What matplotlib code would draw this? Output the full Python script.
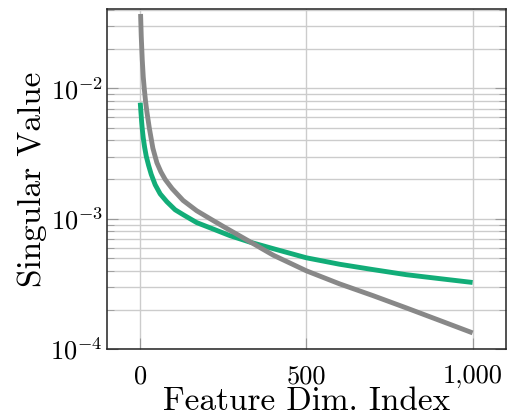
import math
import matplotlib
matplotlib.use("Agg")
import matplotlib.pyplot as plt
from matplotlib.ticker import FuncFormatter, LogLocator, FixedLocator

# values
gray_x = [1, 3, 6, 9, 12, 16, 20, 27, 38, 50, 62, 75, 96, 129, 170, 210, 250, 291, 339,
          400, 500, 600, 700, 800, 900, 1000]
gray_y = [0.0372, 0.0251, 0.0166, 0.0123, 0.0100, 0.00794, 0.00661, 0.00501, 0.00347, 0.00269,
          0.00229, 0.00200, 0.00170, 0.00138, 0.00115, 0.00100, 0.000871, 0.000759, 0.000646,
          0.000525, 0.000398, 0.000316, 0.000257, 0.000207, 0.000166, 0.000133]
green_x = [0, 2, 4, 6, 9, 13, 18, 25, 33, 45, 60, 80, 105, 130, 170, 220, 270, 330,
           400, 500, 600, 700, 800, 900, 1000]
green_y = [0.00776, 0.00661, 0.00562, 0.00490, 0.00417, 0.00355, 0.00302, 0.00257, 0.00219,
           0.00182, 0.00155, 0.00135, 0.00117, 0.00107, 0.000933, 0.000832, 0.000741, 0.000661,
           0.000589, 0.000501, 0.000447, 0.000407, 0.000372, 0.000347, 0.000324]
xticks = [0, 500, 1000]
xtick_labels = ["0", "500", "1,000"]

plt.rcParams["font.family"] = ["cmr10", "DejaVu Serif"]
plt.rcParams["mathtext.fontset"] = "cm"
plt.rcParams["axes.unicode_minus"] = False

fig = plt.figure(figsize=(5.12, 4.17), dpi=100)
ax = fig.add_axes([0.209, 0.163, 0.779, 0.815])

ax.plot(green_x, green_y, color="#12ad78", lw=3.5, solid_capstyle="butt",
        solid_joinstyle="round", zorder=3)
ax.plot(gray_x, gray_y, color="#888888", lw=3.5, solid_capstyle="butt",
        solid_joinstyle="round", zorder=4)

ax.set_yscale("log")
ax.set_xlim(-100, 1100)
ax.set_ylim(1e-4, 4.05e-2)

ax.xaxis.set_major_locator(FixedLocator(xticks))
ax.set_xticklabels(xtick_labels)
ax.yaxis.set_major_locator(LogLocator(base=10))
ax.yaxis.set_minor_locator(LogLocator(base=10, subs=range(2, 10)))
ax.yaxis.set_major_formatter(FuncFormatter(lambda v, p: r"$10^{%d}$" % round(math.log10(v))))
ax.yaxis.set_minor_formatter(FuncFormatter(lambda v, p: ""))

ax.grid(True, which="major", color="#cccccc", lw=1.0)
ax.grid(True, which="minor", axis="y", color="#cccccc", lw=1.0)
ax.set_axisbelow(True)

ax.tick_params(which="both", direction="in", top=False, right=True, color="#999999",
               labelsize=19)
ax.tick_params(axis="y", pad=3)
ax.tick_params(axis="x", pad=11)
ax.tick_params(which="major", length=8)
ax.tick_params(which="minor", length=5)

for s in ax.spines.values():
    s.set_linewidth(1.1)
    s.set_color("#222222")

ax.set_xlabel("Feature Dim. Index", fontsize=24, labelpad=-1)
ax.set_ylabel("Singular Value", fontsize=24, labelpad=2)

fig.savefig("out.png", dpi=100)
